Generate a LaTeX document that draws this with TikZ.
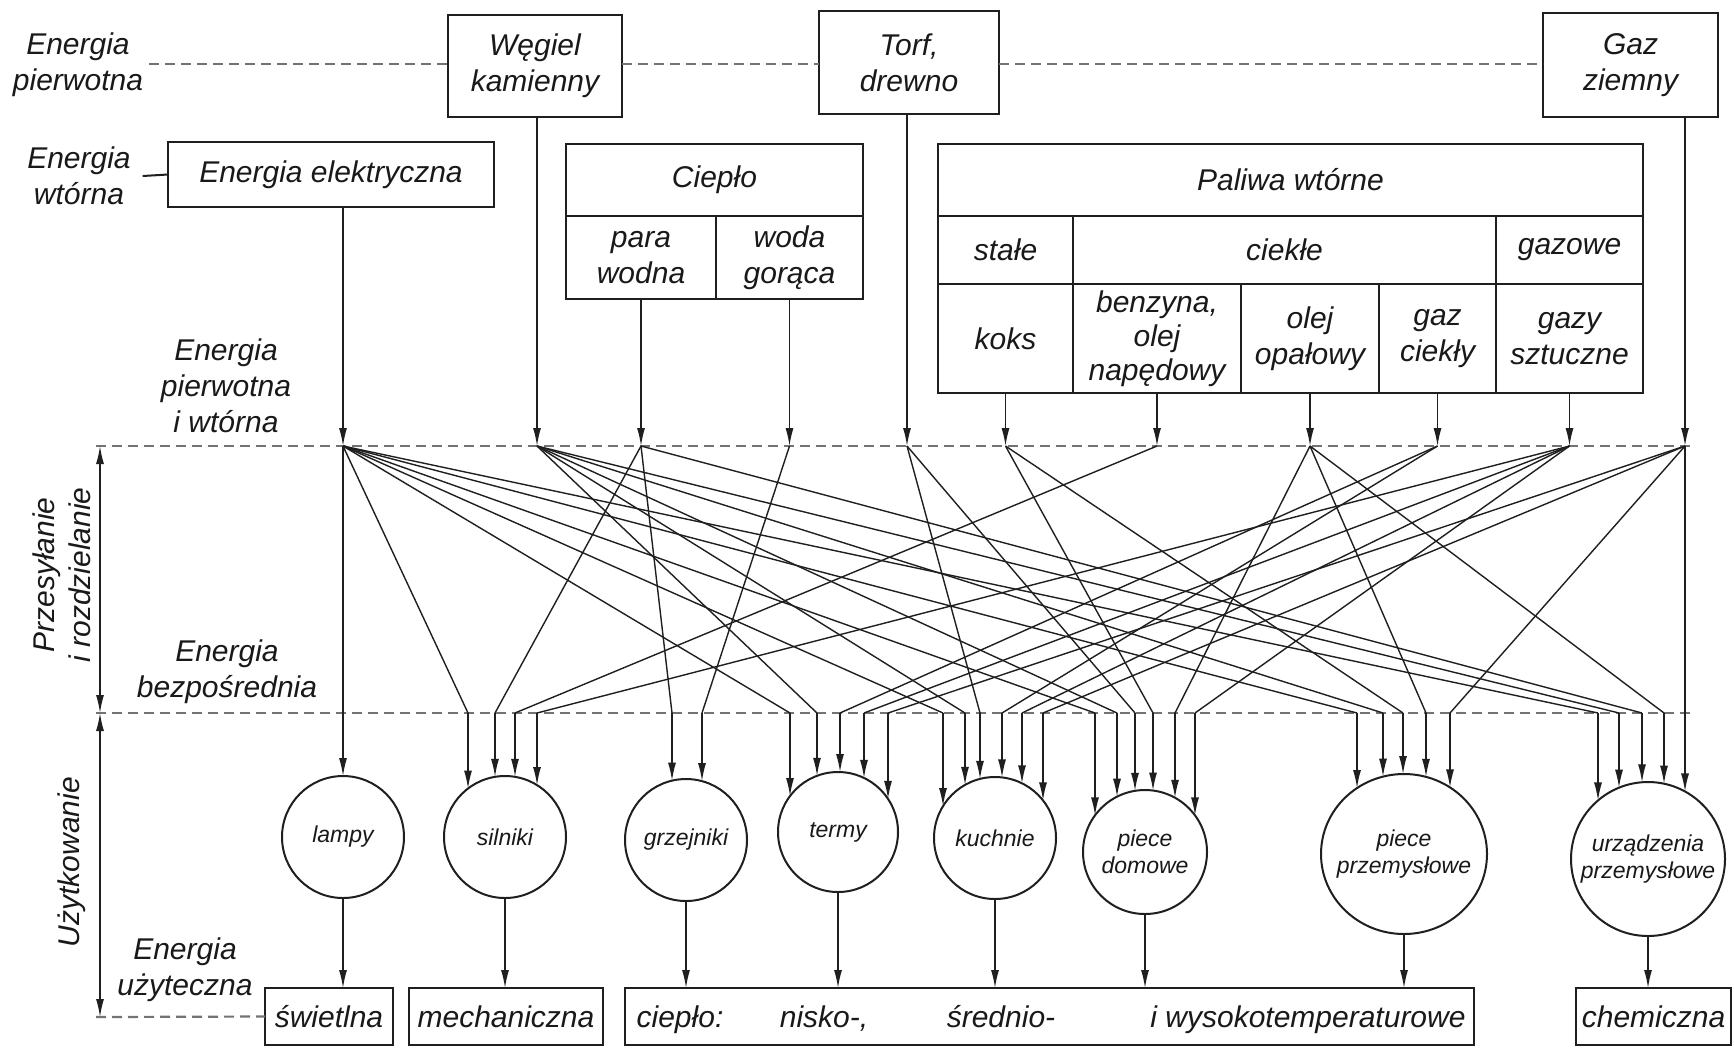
\documentclass[tikz,border=0pt]{standalone}
\usepackage{fontspec}
\setmainfont{Liberation Sans}
\usetikzlibrary{arrows.meta,shapes.geometric}
\begin{document}
\begin{tikzpicture}[x=0.5pt,y=-0.5pt]
\tikzset{
  every node/.style={font=\fontsize{15}{18}\selectfont\itshape, text=black!90, align=center, inner sep=0pt, outer sep=0pt},
  bx/.style={draw=black!88, line width=1pt},
  fan/.style={draw=black!88, line width=0.7pt},
  arr/.style={draw=black!88, line width=0.7pt, -{Latex[length=9pt,width=4pt]}},
  dbl/.style={draw=black!88, line width=0.7pt, {Latex[length=9pt,width=4pt]}-{Latex[length=9pt,width=4pt]}},
  dsh/.style={draw=black!55, line width=1.1pt, dash pattern=on 5pt off 3pt},
  circ/.style={circle, draw=black!88, line width=1pt},
  ell/.style={ellipse, draw=black!88, line width=1pt},
  clab/.style={font=\fontsize{11.5}{13.5}\selectfont\itshape},
}
\useasboundingbox[fill=white] (0,0) rectangle (1734,1051);

% ---- left labels
\node (lP) at (78,65) {Energia\\pierwotna};
\node (lW) at (79,176) {Energia\\wtórna};
\node (lPW) at (226,386) {Energia\\pierwotna\\i wtórna};
\node (lB) at (227,672) {Energia\\bezpośrednia};
\node (lU) at (185,970) {Energia\\użyteczna};
\node[rotate=90] (lPr) at (62,575) {Przesyłanie\\i rozdzielanie};
\node[rotate=90] (lUz) at (72,862) {Użytkowanie};

% ---- top boxes
\node[bx, minimum width=87pt, minimum height=51pt] (bW) at (535,66) {Węgiel\\kamienny};
\node[bx, minimum width=90pt, minimum height=51.5pt] (bT) at (909,62.5) {Torf,\\drewno};
\node[bx, minimum width=87.5pt, minimum height=52pt] (bG) at (1630.5,65) {Gaz\\ziemny};
\node[bx, minimum width=163pt, minimum height=32.5pt] (bE) at (331,174.5) {Energia elektryczna};

\node[bx, minimum width=148.5pt, minimum height=36pt] (cH) at (714.5,180) {Ciepło};
\node[bx, minimum width=75pt, minimum height=41.5pt] (cP) at (641,257.5) {para\\wodna};
\node[bx, minimum width=73.5pt, minimum height=41.5pt] (cW) at (789.5,257.5) {woda\\gorąca};

\node[bx, minimum width=352.5pt, minimum height=36pt] (pH) at (1290.5,180) {Paliwa wtórne};
\node[bx, minimum width=67.5pt, minimum height=34pt] (pS) at (1005.5,250) {stałe};
\node[bx, minimum width=211.5pt, minimum height=34pt] (pC) at (1284.5,250) {ciekłe};
\node[bx, minimum width=73.5pt, minimum height=34pt] (pG) at (1569.5,250) {gazowe};
\node[bx, minimum width=67.5pt, minimum height=54.5pt] (pK) at (1005.5,338.5) {koks};
\node[bx, minimum width=84pt, minimum height=54.5pt, font=\fontsize{15}{17}\selectfont\itshape] (pB) at (1157,338.5) {benzyna,\\olej\\napędowy};
\node[bx, minimum width=69pt, minimum height=54.5pt] (pO) at (1310,338.5) {olej\\opałowy};
\node[bx, minimum width=58.5pt, minimum height=54.5pt] (pL) at (1437.5,338.5) {gaz\\ciekły};
\node[bx, minimum width=73.5pt, minimum height=54.5pt] (pZ) at (1569.5,338.5) {gazy\\sztuczne};

% ---- connectors at top
\draw[dsh] (149,64) -- (bW.west |- 0,64);
\draw[dsh] (bW.east |- 0,64) -- (bT.west |- 0,64);
\draw[dsh] (bT.east |- 0,64) -- (bG.west |- 0,64);
\draw[line width=1pt, draw=black!88] (lW.east) ++(6pt,0) -- (bE.west);

% ---- source points on the upper line
\coordinate (sE) at (343,446);
\coordinate (sW) at (537,446);
\coordinate (sP) at (641,446);
\coordinate (sH) at (789.5,446);
\coordinate (sT) at (907,446);
\coordinate (sK) at (1005.5,446);
\coordinate (sB) at (1157,446);
\coordinate (sO) at (1310,446);
\coordinate (sG) at (1437.5,446);
\coordinate (sS) at (1569.5,446);
\coordinate (sZ) at (1685,446);

\draw[dsh] (96,446) -- (1692,446);
\draw[dsh] (96,713) -- (1692,713);

\draw[arr] (bE.south -| sE) -- (sE);
\draw[arr] (bW.south -| sW) -- (sW);
\draw[arr] (cP.south) -- (sP);
\draw[arr] (cW.south) -- (sH);
\draw[arr] (bT.south -| sT) -- (sT);
\draw[arr] (pK.south) -- (sK);
\draw[arr] (pB.south) -- (sB);
\draw[arr] (pO.south) -- (sO);
\draw[arr] (pL.south) -- (sG);
\draw[arr] (pZ.south) -- (sS);
\draw[arr] (bG.south -| sZ) -- (sZ);

% ---- dimension arrows
\coordinate (m1) at (100,446);
\coordinate (m2) at (100,713);
\coordinate (m3) at (100,1017);
\draw[dbl] (m1) -- (m2);
\draw[dbl] (m2) -- (m3);

% ---- consumers
\node[circ, minimum size=61pt] (kL) at (343,837) {};
\node[circ, minimum size=61pt] (kS) at (505,837) {};
\node[circ, minimum size=61pt] (kG) at (686,840) {};
\node[circ, minimum size=60pt] (kT) at (838,832) {};
\node[circ, minimum size=61pt] (kK) at (995,838) {};
\node[circ, minimum size=62pt] (kD) at (1145,852) {};
\node[ell, minimum width=83pt, minimum height=80pt] (kP) at (1404,854) {};
\node[circ, minimum size=77pt] (kU) at (1648,859) {};
\node[clab] at (kL) {lampy};
\node[clab] at (kS) {silniki};
\node[clab] at (kG) {grzejniki};
\node[clab] at (kT) {termy};
\node[clab] at (kK) {kuchnie};
\node[clab] at (kD) {piece\\domowe};
\node[clab] at (kP) {piece\\przemysłowe};
\node[clab] at (kU) {urządzenia\\przemysłowe};

% ---- distribution lines and arrows into consumers
\foreach \d/\x/\s/\cx/\cy/\rx/\ry in {
  h1/343/E/343/837/61/61,
  a1/468/E/505/837/61/61, a2/495/P/505/837/61/61, a3/515/B/505/837/61/61, a4/537/S/505/837/61/61,
  b1/672/P/686/840/61/61, b2/702/H/686/840/61/61,
  c1/790/E/838/832/60/60, c2/817/W/838/832/60/60, c3/840/G/838/832/60/60, c4/864/S/838/832/60/60, c5/888/Z/838/832/60/60,
  d1/943/E/995/838/61/61, d2/965/W/995/838/61/61, d3/980/T/995/838/61/61, d4/1002/G/995/838/61/61, d5/1022/S/995/838/61/61, d6/1043/Z/995/838/61/61,
  e1/1095/E/1145/852/62/62, e2/1117/W/1145/852/62/62, e3/1135/T/1145/852/62/62, e4/1153/K/1145/852/62/62, e5/1175/O/1145/852/62/62, e6/1195/S/1145/852/62/62,
  f1/1357/E/1404/854/83/80, f2/1383/W/1404/854/83/80, f3/1403/K/1404/854/83/80, f4/1426/O/1404/854/83/80, f5/1450/Z/1404/854/83/80,
  g1/1598/E/1648/859/77/77, g2/1619/W/1648/859/77/77, g3/1642/P/1648/859/77/77, g4/1664/O/1648/859/77/77, g5/1685/Z/1648/859/77/77}
{
  \coordinate (\d) at (\x,713);
  \draw[fan] (s\s) -- (\d);
  \draw[arr] (\d) -- (\x,{\cy-\ry*sqrt(max(0,1-((\x-\cx)/\rx)^2))});
}

% ---- useful energy boxes
\node[bx, minimum width=64pt, minimum height=28.5pt] (bSw) at (329,1016.5) {świetlna};
\node[bx, minimum width=97pt, minimum height=28.5pt] (bMe) at (506,1016.5) {mechaniczna};
\node[bx, minimum width=424.5pt, minimum height=28.5pt] (bCi) at (1049.5,1016.5) {};
\node[bx, minimum width=77.5pt, minimum height=28.5pt] (bCh) at (1653.5,1016.5) {chemiczna};
\node[anchor=base] (t1) at (680,1027) {ciepło:};
\node[anchor=base] (t2) at (824,1027) {nisko-,};
\node[anchor=base] (t3) at (1001,1027) {średnio-};
\node[anchor=base] (t4) at (1308,1027) {i wysokotemperaturowe};

\draw[dsh] (96,1017) -- (bSw.west);

\draw[arr] (kL.south) -- (kL.south |- bSw.north);
\draw[arr] (kS.south) -- (kS.south |- bMe.north);
\draw[arr] (kG.south) -- (kG.south |- bCi.north);
\draw[arr] (kT.south) -- (kT.south |- bCi.north);
\draw[arr] (kK.south) -- (kK.south |- bCi.north);
\draw[arr] (kD.south) -- (kD.south |- bCi.north);
\draw[arr] (kP.south) -- (kP.south |- bCi.north);
\draw[arr] (kU.south) -- (kU.south |- bCh.north);
\end{tikzpicture}
\end{document}
